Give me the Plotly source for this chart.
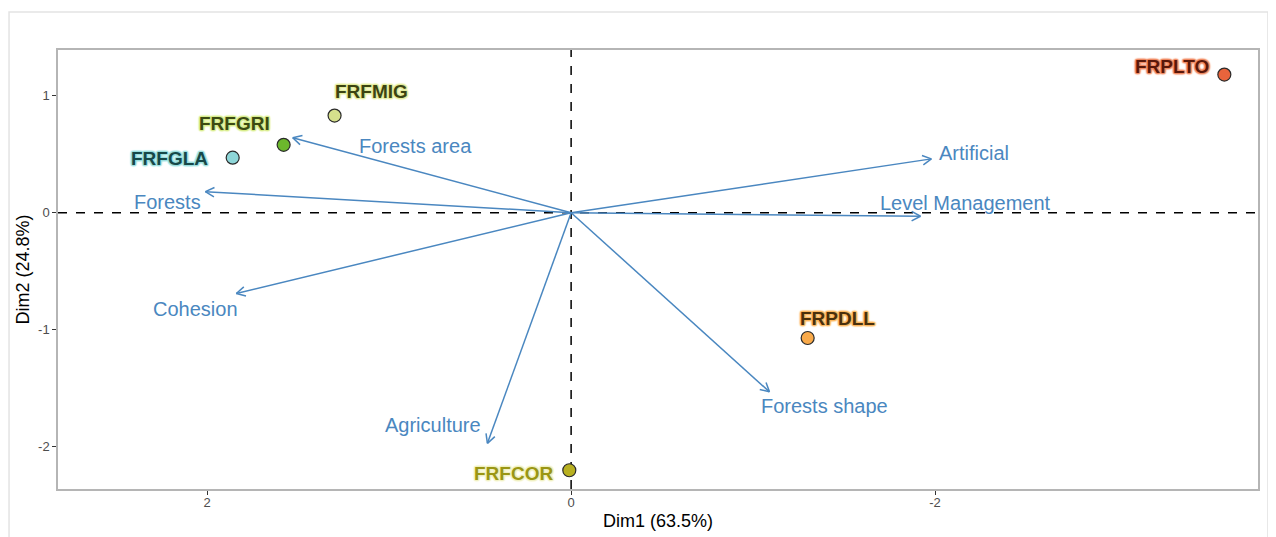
import numpy as np
import plotly.graph_objects as go

# ---------------- data ----------------
ind_names = ["FRPLTO", "FRFMIG", "FRFGRI", "FRFGLA", "FRPDLL", "FRFCOR"]
ind_dim1 = [-3.59, 1.30, 1.58, 1.86, -1.30, 0.01]
ind_dim2 = [1.18, 0.83, 0.58, 0.47, -1.07, -2.20]

var_names = ["Forests area", "Forests", "Cohesion", "Agriculture",
             "Forests shape", "Artificial", "Level Management"]
var_dim1 = [1.53, 2.01, 1.84, 0.46, -1.09, -1.98, -1.92]
var_dim2 = [0.64, 0.18, -0.69, -1.97, -1.53, 0.46, -0.03]

x_title = "Dim1 (63.5%)"
y_title = "Dim2 (24.8%)"
x_ticks = [2, 0, -2]
y_ticks = [1, 0, -1, -2]

# ---------------- styles ----------------
# page body has a small margin, so the figure is slightly smaller than the window
W, H = 1268, 529
M = dict(l=50, r=18, t=42, b=48)
XR = [2.82, -3.775]
YR = [-2.36, 1.39]
FONT = "Liberation Sans, Arial, sans-serif"
ARROW_COL = "#4a87c0"

ind_fill = ["#e8643c", "#d6e08c", "#6cb82c", "#8ed6d8", "#f9aa4a", "#b8b020"]
ind_text = ["#5a180a", "#3c4412", "#3c4a12", "#174848", "#4a300c", "#9a9614"]
ind_halo = ["#f08a62", "#e4ec9c", "#d8ec8c", "#9adede", "#fbb860", "#f0f0c0"]
ind_label_shift = [(-52, 8), (37, 24), (-49, 21), (-63, -1), (30, 19), (-56, -3)]
var_label_shift = [(123, -8), (-38, -10), (-41, -15), (-54, 18), (55, -14), (43, 6), (45, 13)]

pw = W - M["l"] - M["r"]
ph = H - M["t"] - M["b"]
sx = pw / (XR[1] - XR[0])   # pixels per unit (signed)
sy = ph / (YR[1] - YR[0])

fig = go.Figure()

# variable arrows with open heads
L = 10.0
ang = np.deg2rad(28)
for name, vx, vy in zip(var_names, var_dim1, var_dim2):
    dpx, dpy = vx * sx, vy * sy
    n = np.hypot(dpx, dpy)
    ux, uy = dpx / n, dpy / n
    xs, ys = [0, vx, None], [0, vy, None]
    for s in (1, -1):
        ca, sa = np.cos(s * ang), np.sin(s * ang)
        rx, ry = ux * ca - uy * sa, ux * sa + uy * ca
        bx = vx - L * rx / sx
        by = vy - L * ry / sy
        xs += [bx, vx]
        ys += [by, vy]
        if s == 1:
            xs += [None]
            ys += [None]
    fig.add_trace(go.Scatter(x=xs, y=ys, mode="lines",
                             line=dict(color=ARROW_COL, width=1.5),
                             hoverinfo="skip", showlegend=False))

# individuals
fig.add_trace(go.Scatter(
    x=ind_dim1, y=ind_dim2, mode="markers",
    marker=dict(size=13, color=ind_fill, line=dict(color="#2a2a2a", width=1.2)),
    text=ind_names, showlegend=False, hoverinfo="text"))

annotations = []
for name, x, y, tc, hc, (dx, dy) in zip(ind_names, ind_dim1, ind_dim2, ind_text,
                                       ind_halo, ind_label_shift):
    shadow = ", ".join(f"{a}px {b}px 1.5px {hc}" for a, b in
                       [(1, 0), (-1, 0), (0, 1), (0, -1), (1, 1), (-1, -1), (1, -1), (-1, 1)])
    annotations.append(dict(
        x=x, y=y, text=name, showarrow=False, xshift=dx, yshift=dy,
        font=dict(family=FONT, size=19, color=tc, weight="bold", shadow=shadow)))

for name, x, y, (dx, dy) in zip(var_names, var_dim1, var_dim2, var_label_shift):
    annotations.append(dict(
        x=x, y=y, text=name, showarrow=False, xshift=dx, yshift=dy,
        font=dict(family=FONT, size=20, color=ARROW_COL)))

shapes = [
    dict(type="line", xref="paper", yref="y", x0=0, x1=1, y0=0, y1=0,
         line=dict(color="black", width=1.5, dash="dash"), layer="below"),
    dict(type="line", xref="x", yref="paper", x0=0, x1=0, y0=0, y1=1,
         line=dict(color="black", width=1.5, dash="dash"), layer="below"),
    dict(type="rect", xref="paper", yref="paper",
         x0=-0.0408, x1=1.0083, y0=-0.3, y1=1.0864,
         line=dict(color="#e3e3e3", width=1.5), layer="below"),
]

fig.update_layout(
    width=W, height=H, margin=M,
    paper_bgcolor="white", plot_bgcolor="white",
    font=dict(family=FONT),
    annotations=annotations,
    shapes=shapes,
    xaxis=dict(range=XR, tickvals=x_ticks, ticktext=[str(t) for t in x_ticks],
               automargin=False,
               showgrid=False, zeroline=False, showline=True, mirror=True,
               linecolor="#b5b5b5", linewidth=1.5, ticks="outside", ticklen=4,
               tickcolor="#333333", tickwidth=1.2, ticklabelstandoff=-3,
               tickfont=dict(size=13, color="#4d4d4d", family=FONT),
               title=dict(text=x_title, font=dict(size=18, color="black", family=FONT),
                          standoff=5)),
    yaxis=dict(range=YR, tickvals=y_ticks, ticktext=[str(t) for t in y_ticks],
               automargin=False,
               showgrid=False, zeroline=False, showline=True, mirror=True,
               linecolor="#b5b5b5", linewidth=1.5, ticks="outside", ticklen=4,
               tickcolor="#333333", tickwidth=1.2,
               tickfont=dict(size=13, color="#4d4d4d", family=FONT),
               title=dict(text=y_title, font=dict(size=18, color="black", family=FONT),
                          standoff=4)),
)

fig.write_html("out.html")
